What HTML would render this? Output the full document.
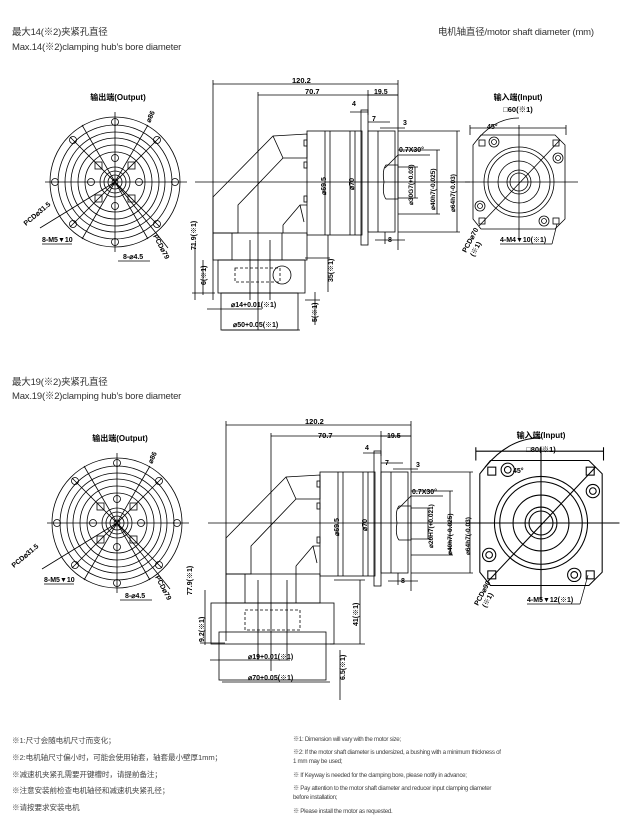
<!DOCTYPE html>
<html><head><meta charset="utf-8"><style>
html,body{margin:0;padding:0;background:#fff;}
body{width:627px;height:826px;overflow:hidden;position:relative;font-family:"Liberation Sans","Noto Sans CJK SC",sans-serif;}
.h{position:absolute;font-size:9.5px;color:#333;white-space:nowrap;letter-spacing:-0.2px}
.n{position:absolute;font-size:7.6px;color:#444;white-space:nowrap;letter-spacing:-0.1px}
.e{position:absolute;font-size:6.2px;color:#444;white-space:nowrap;letter-spacing:-0.3px;line-height:9px}
svg text{font-family:"Liberation Sans","Noto Sans CJK SC",sans-serif;font-weight:bold;fill:#000}
</style></head><body>
<div class="h" style="left:12px;top:24px">最大14(※2)夹紧孔直径</div>
<div class="h" style="left:12px;top:39px">Max.14(※2)clamping hub’s bore diameter</div>
<div class="h" style="left:438px;top:24px">电机轴直径/motor shaft diameter (mm)</div>
<div class="h" style="left:12px;top:374px">最大19(※2)夹紧孔直径</div>
<div class="h" style="left:12px;top:388px">Max.19(※2)clamping hub’s bore diameter</div>

<svg width="627" height="826" style="position:absolute;left:0;top:0" xmlns="http://www.w3.org/2000/svg">
<defs>
<g id="outv" fill="none" stroke="#000" stroke-width="0.8">
  <line x1="45" y1="182" x2="187" y2="182"/><line x1="115" y1="112" x2="115" y2="252"/>
  <circle cx="115" cy="182" r="65"/><circle cx="115" cy="182" r="57"/><circle cx="115" cy="182" r="50"/>
  <circle cx="115" cy="182" r="44"/><circle cx="115" cy="182" r="37"/><circle cx="115" cy="182" r="30"/>
  <circle cx="115" cy="182" r="15"/><circle cx="115" cy="182" r="11"/><circle cx="115" cy="182" r="7"/><circle cx="115" cy="182" r="3"/>
  <line x1="70" y1="137" x2="160" y2="227"/><line x1="160" y1="137" x2="70" y2="227"/>
  <line x1="148" y1="125" x2="82" y2="239"/><line x1="82" y1="125" x2="148" y2="239"/>
  <g>
  <circle cx="115" cy="122" r="3.5"/><circle cx="115" cy="242" r="3.5"/><circle cx="55" cy="182" r="3.5"/><circle cx="175" cy="182" r="3.5"/>
  <circle cx="73" cy="140" r="3.5"/><circle cx="157" cy="140" r="3.5"/><circle cx="73" cy="224" r="3.5"/><circle cx="157" cy="224" r="3.5"/>
  <circle cx="115" cy="158" r="3.5"/><circle cx="115" cy="206" r="3.5"/><circle cx="91" cy="182" r="3.5"/><circle cx="139" cy="182" r="3.5"/>
  <rect x="95" y="162" width="7" height="7"/><rect x="128" y="162" width="7" height="7"/><rect x="95" y="195" width="7" height="7"/><rect x="128" y="195" width="7" height="7"/>
  </g>
  <line x1="115" y1="182" x2="40" y2="228"/><line x1="115" y1="182" x2="168" y2="248"/>
</g>
<g id="sidetop" fill="none" stroke="#000" stroke-width="0.8">
  <line x1="195" y1="182" x2="470" y2="182"/>
  <line x1="213" y1="84" x2="398" y2="84"/><line x1="213" y1="80" x2="213" y2="300"/><line x1="398" y1="80" x2="398" y2="250"/>
  <line x1="258" y1="95" x2="398" y2="95"/><line x1="258" y1="92" x2="258" y2="330"/>
  <line x1="368" y1="95" x2="398" y2="95"/><line x1="368" y1="90" x2="368" y2="115"/>
  <path d="M213 197 L273 136 L307 134 L307 158 L283 158 L238 205 L238 233 L213 233 Z"/>
  <line x1="273" y1="136" x2="283" y2="158"/>
  <path d="M283 225 L300 205 L307 205 M283 225 L283 233 M300 205 L304 222"/>
  <rect x="307" y="131" width="55" height="104"/>
  <line x1="325" y1="131" x2="325" y2="235"/><line x1="330" y1="131" x2="330" y2="235"/>
  <line x1="350" y1="131" x2="350" y2="235"/><line x1="355" y1="131" x2="355" y2="235"/>
  <rect x="304" y="140" width="3" height="6"/><rect x="304" y="162" width="3" height="6"/><rect x="304" y="196" width="3" height="6"/>
  <rect x="361" y="110" width="7" height="135"/>
  <rect x="368" y="131" width="27" height="101"/><line x1="378" y1="131" x2="378" y2="232"/>
  <path d="M398 165 L386 165 Q382 170 384 182 Q382 194 386 199 L398 199 Z"/>
  <line x1="398" y1="131" x2="460" y2="131"/><line x1="398" y1="232" x2="460" y2="232"/><line x1="457" y1="131" x2="457" y2="232"/>
  <line x1="398" y1="150" x2="440" y2="150"/><line x1="398" y1="214" x2="440" y2="214"/><line x1="437" y1="150" x2="437" y2="214"/>
  <line x1="398" y1="167" x2="418" y2="167"/><line x1="398" y1="198" x2="418" y2="198"/><line x1="415" y1="167" x2="415" y2="198"/>
  <line x1="398" y1="155" x2="430" y2="155"/><line x1="398" y1="155" x2="385" y2="168"/>
  <line x1="350" y1="112" x2="368" y2="112"/><line x1="368" y1="122" x2="390" y2="122"/><line x1="380" y1="128" x2="405" y2="128"/>
  <line x1="375" y1="240" x2="405" y2="240"/><line x1="385" y1="232" x2="385" y2="244"/>
</g>
<g id="inpv" fill="none" stroke="#000" stroke-width="0.8">
  <path d="M481 135 L555 135 L565 145 L565 219 L555 229 L481 229 L473 219 L473 145 Z"/>
  <line x1="465" y1="182" x2="578" y2="182"/><line x1="519" y1="125" x2="519" y2="240"/>
  <circle cx="519" cy="182" r="35"/><circle cx="519" cy="182" r="31"/><circle cx="519" cy="182" r="21"/>
  <circle cx="519" cy="182" r="12"/><circle cx="519" cy="182" r="9"/>
  <line x1="479" y1="226" x2="560" y2="140"/>
  <rect x="479" y="140" width="6" height="6"/><rect x="553" y="140" width="6" height="6"/><rect x="479" y="218" width="6" height="6"/><rect x="553" y="218" width="6" height="6"/>
  <circle cx="494" cy="142" r="5"/><circle cx="494" cy="142" r="2.5"/><circle cx="558" cy="158" r="5"/><circle cx="558" cy="158" r="2.5"/>
  <circle cx="480" cy="206" r="5"/><circle cx="480" cy="206" r="2.5"/><circle cx="544" cy="221" r="5"/><circle cx="544" cy="221" r="2.5"/>
  <path d="M470 135 L470 125 M566 135 L566 125 M470 128 L566 128"/>
  <path d="M477 140 Q495 118 519 118"/>
</g>
</defs>

<!-- Section 1 -->
<use href="#outv"/>
<text x="118" y="100" font-size="8" text-anchor="middle">输出端(Output)</text>
<text x="0" y="0" font-size="7" transform="translate(150,123) rotate(-65)">⌀86</text>
<text x="0" y="0" font-size="7" transform="translate(26,226) rotate(-40)">PCD⌀31.5</text>
<text x="42" y="242" font-size="7">8-M5▼10</text>
<line x1="42" y1="244" x2="72" y2="244" stroke="#000" stroke-width="0.7"/>
<text x="123" y="259" font-size="7">8-⌀4.5</text>
<line x1="118" y1="261" x2="150" y2="261" stroke="#000" stroke-width="0.7"/>
<text x="0" y="0" font-size="7" transform="translate(153,236) rotate(62)">PCD⌀79</text>

<use href="#sidetop"/>
<g fill="none" stroke="#000" stroke-width="0.8">
  <rect x="213" y="233" width="94" height="27"/>
  <path d="M232 233 V260 M250 240 V300 M270 240 V300 M282 233 V260" />
  <rect x="218" y="260" width="87" height="33"/>
  <rect x="235" y="268" width="45" height="14" stroke-dasharray="3,2"/><circle cx="282" cy="275" r="9"/>
  <rect x="221" y="293" width="77" height="37"/>
  <path d="M195 245 V300 M192 293 H215 M203 260 V295 M305 258 H330 M328 235 V292 M305 300 H320 M315 292 V325 M207 309 H262 M222 330 H300"/>
</g>
<text x="0" y="0" font-size="7" transform="translate(196,250) rotate(-90)">71.9(※1)</text>
<text x="0" y="0" font-size="7" transform="translate(206,285) rotate(-90)">6(※1)</text>
<text x="0" y="0" font-size="7" transform="translate(333,282) rotate(-90)">35(※1)</text>
<text x="0" y="0" font-size="7" transform="translate(317,322) rotate(-90)">5(※1)</text>
<text x="231" y="307" font-size="7">⌀14+0.01(※1)</text>
<text x="233" y="327" font-size="7">⌀50+0.05(※1)</text>
<text x="292" y="83" font-size="7.5">120.2</text>
<text x="305" y="94" font-size="7.5">70.7</text>
<text x="374" y="94" font-size="7">19.5</text>
<text x="352" y="106" font-size="7">4</text>
<text x="372" y="121" font-size="7">7</text>
<text x="403" y="125" font-size="7">3</text>
<text x="388" y="242" font-size="7">8</text>
<text x="399" y="152" font-size="7">0.7X30°</text>
<text x="0" y="0" font-size="7" transform="translate(326,195) rotate(-90)">⌀69.5</text>
<text x="0" y="0" font-size="7" transform="translate(354,190) rotate(-90)">⌀70</text>
<text x="0" y="0" font-size="6.5" transform="translate(413,205) rotate(-90)">⌀30G7(+0.03)</text>
<text x="0" y="0" font-size="6.5" transform="translate(435,210) rotate(-90)">⌀40h7(-0.025)</text>
<text x="0" y="0" font-size="6.5" transform="translate(455,212) rotate(-90)">⌀64h7(-0.03)</text>

<use href="#inpv"/>
<text x="518" y="100" font-size="8" text-anchor="middle">输入端(Input)</text>
<text x="518" y="112" font-size="7.5" text-anchor="middle">□60(※1)</text>
<text x="487" y="129" font-size="7">45°</text>
<text x="0" y="0" font-size="7" transform="translate(466,253) rotate(-62)">PCD⌀70</text>
<text x="0" y="0" font-size="7" transform="translate(474,257) rotate(-62)">(※1)</text>
<text x="500" y="242" font-size="7">4-M4▼10(※1)</text>
<line x1="500" y1="244" x2="552" y2="244" stroke="#000" stroke-width="0.7"/>
<line x1="552" y1="244" x2="557" y2="224" stroke="#000" stroke-width="0.7"/>

<!-- Section 2 -->
<use href="#outv" transform="translate(2,341)"/>
<text x="120" y="441" font-size="8" text-anchor="middle">输出端(Output)</text>
<text x="0" y="0" font-size="7" transform="translate(152,464) rotate(-65)">⌀86</text>
<text x="0" y="0" font-size="7" transform="translate(14,568) rotate(-40)">PCD⌀31.5</text>
<text x="44" y="582" font-size="7">8-M5▼10</text>
<line x1="44" y1="584" x2="74" y2="584" stroke="#000" stroke-width="0.7"/>
<text x="125" y="598" font-size="7">8-⌀4.5</text>
<line x1="120" y1="600" x2="152" y2="600" stroke="#000" stroke-width="0.7"/>
<text x="0" y="0" font-size="7" transform="translate(155,577) rotate(62)">PCD⌀79</text>

<use href="#sidetop" transform="translate(13,341)"/>
<g fill="none" stroke="#000" stroke-width="0.8">
  <rect x="226" y="574" width="94" height="29"/>
  <path d="M245 574 V603 M258 580 V660 M287 580 V660 M296 574 V603"/>
  <rect x="211" y="603" width="123" height="41"/>
  <rect x="245" y="610" width="55" height="20" stroke-dasharray="3,2"/>
  <rect x="219" y="632" width="107" height="48"/>
  <path d="M205 590 V645 M200 643 H225 M334 580 H365 M360 580 V644 M330 644 H365 M340 650 V700 M210 660 H290 M222 682 H330"/>
</g>
<text x="0" y="0" font-size="7" transform="translate(192,595) rotate(-90)">77.9(※1)</text>
<text x="0" y="0" font-size="7" transform="translate(204,642) rotate(-90)">9.2(※1)</text>
<text x="0" y="0" font-size="7" transform="translate(358,626) rotate(-90)">41(※1)</text>
<text x="0" y="0" font-size="7" transform="translate(345,680) rotate(-90)">6.5(※1)</text>
<text x="248" y="659" font-size="7">⌀19+0.01(※1)</text>
<text x="248" y="680" font-size="7">⌀70+0.05(※1)</text>
<text x="305" y="424" font-size="7.5">120.2</text>
<text x="318" y="438" font-size="7.5">70.7</text>
<text x="387" y="438" font-size="7">19.5</text>
<text x="365" y="450" font-size="7">4</text>
<text x="385" y="465" font-size="7">7</text>
<text x="416" y="467" font-size="7">3</text>
<text x="401" y="583" font-size="7">8</text>
<text x="412" y="494" font-size="7">0.7X30°</text>
<text x="0" y="0" font-size="7" transform="translate(339,536) rotate(-90)">⌀69.5</text>
<text x="0" y="0" font-size="7" transform="translate(367,531) rotate(-90)">⌀70</text>
<text x="0" y="0" font-size="6.5" transform="translate(433,548) rotate(-90)">⌀20H7(+0.021)</text>
<text x="0" y="0" font-size="6.5" transform="translate(452,555) rotate(-90)">⌀40h7(-0.025)</text>
<text x="0" y="0" font-size="6.5" transform="translate(470,555) rotate(-90)">⌀64h7(-0.03)</text>

<g transform="translate(541,523) scale(1.33) translate(-519,-182)" stroke-width="0.6">
  <use href="#inpv"/>
</g>
<text x="541" y="438" font-size="8" text-anchor="middle">输入端(Input)</text>
<text x="541" y="452" font-size="7.5" text-anchor="middle">□80(※1)</text>
<text x="513" y="473" font-size="7">45°</text>
<text x="0" y="0" font-size="7" transform="translate(478,606) rotate(-62)">PCD⌀90</text>
<text x="0" y="0" font-size="7" transform="translate(486,608) rotate(-62)">(※1)</text>
<text x="527" y="602" font-size="7">4-M5▼12(※1)</text>
<line x1="527" y1="604" x2="580" y2="604" stroke="#000" stroke-width="0.7"/>
<line x1="580" y1="604" x2="588" y2="575" stroke="#000" stroke-width="0.7"/>
</svg>

<div class="n" style="left:12px;top:735px">※1:尺寸会随电机尺寸而变化；</div>
<div class="n" style="left:12px;top:752px">※2:电机轴尺寸偏小时，可能会使用轴套，轴套最小壁厚1mm；</div>
<div class="n" style="left:12px;top:769px">※减速机夹紧孔需要开键槽时，请提前备注；</div>
<div class="n" style="left:12px;top:785px">※注意安装前检查电机轴径和减速机夹紧孔径；</div>
<div class="n" style="left:12px;top:802px">※请按要求安装电机</div>
<div class="e" style="left:293px;top:735px">※1: Dimension will vary with the motor size;</div>
<div class="e" style="left:293px;top:748px">※2: If the motor shaft diameter is undersized, a bushing with a minimum thickness of<br>1 mm may be used;</div>
<div class="e" style="left:293px;top:771px">※ If Keyway is needed for the clamping bore, please notify in advance;</div>
<div class="e" style="left:293px;top:784px">※ Pay attention to the motor shaft diameter and reducer input clamping diameter<br>before installation;</div>
<div class="e" style="left:293px;top:807px">※ Please install the motor as requested.</div>
</body></html>
